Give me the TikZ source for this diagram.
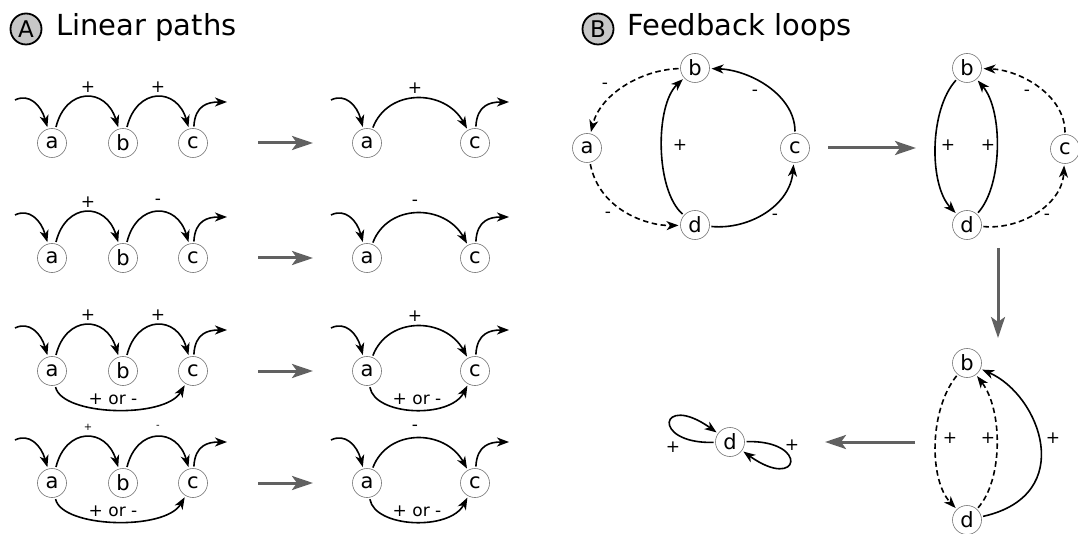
\documentclass[tikz,border=0pt]{standalone}
\usepackage{fontspec}
\setmainfont{DejaVu Sans}
\usetikzlibrary{arrows.meta}

\tikzset{
  nd/.style={circle, draw=black!55, line width=0.6pt, minimum size=29pt,
    inner sep=0pt, outer sep=2pt, font=\fontsize{21}{21}\selectfont},
  ed/.style={draw, line width=1.6pt, -{Stealth[length=12pt,width=9pt,inset=3.5pt]}},
  dsh/.style={dash pattern=on 5.5pt off 3.5pt},
  lbl/.style={inner sep=0pt, font=\fontsize{17}{17}\selectfont},
  slbl/.style={inner sep=0pt, font=\fontsize{10}{10}\selectfont},
  big/.style={draw=black!62, line width=3pt, -{Stealth[length=21pt,width=14pt,inset=5pt]}},
  ttl/.style={circle, draw=black, line width=1.8pt, fill=black!22, minimum size=31pt,
    inner sep=0pt, font=\fontsize{23}{23}\selectfont},
  ttltext/.style={inner sep=0pt, anchor=base west, font=\fontsize{29}{29}\selectfont}
}

% one row of panel A: #1 y, #2 prefix, #3/#4 labels a->b, b->c, #5 label a->c,
% #6 style of the two left labels
\newcommand\linrow[6]{%
  \node[nd] (#2a) at (52,#1) {a};
  \node[nd] (#2b) at (123,#1) {b};
  \node[nd] (#2c) at (193,#1) {c};
  \coordinate (#2in) at (15,{#1-43});
  \coordinate (#2out) at (227,{#1-41});
  \draw[ed] (#2in) .. controls (29,{#1-50}) and (41,{#1-38}) .. (#2a);
  \draw[ed] (#2a) .. controls (66,{#1-56}) and (106,{#1-56}) .. (#2b);
  \draw[ed] (#2b) .. controls (137,{#1-56}) and (177,{#1-56}) .. (#2c);
  \draw[ed] (#2c) .. controls (195,{#1-38}) and (208,{#1-41}) .. (#2out);
  \node[#6] (#2l1) at (88,{#1-56}) {#3};
  \node[#6] (#2l2) at (158,{#1-56}) {#4};
  % reduced path
  \coordinate (#2g1) at (258,#1);
  \coordinate (#2g2) at (313,#1);
  \draw[big] (#2g1) -- (#2g2);
  \node[nd] (#2A) at (367,#1) {a};
  \node[nd] (#2C) at (475,#1) {c};
  \coordinate (#2In) at (331,{#1-43});
  \coordinate (#2Out) at (509,{#1-41});
  \draw[ed] (#2In) .. controls (345,{#1-50}) and (357,{#1-38}) .. (#2A);
  \draw[ed] (#2A) .. controls (388,{#1-55}) and (445,{#1-54}) .. (#2C);
  \draw[ed] (#2C) .. controls (477,{#1-38}) and (490,{#1-41}) .. (#2Out);
  \node[lbl] (#2l3) at (415,{#1-55}) {#5};
}

% direct a->c influence underneath a row
\newcommand\orarc[2]{%
  \draw[ed] (#2a) .. controls (62,{#1+45}) and (165,{#1+48}) .. (#2c);
  \node[lbl] (#2o1) at (113,{#1+28}) {+ or -};
  \draw[ed] (#2A) .. controls (375,{#1+45}) and (450,{#1+48}) .. (#2C);
  \node[lbl] (#2o2) at (417,{#1+28}) {+ or -};
}

\begin{document}
\begin{tikzpicture}[x=1pt, y=-1pt]
\useasboundingbox (0,0) rectangle (1078,534);

% ---------- A: linear paths ----------
\node[ttl] (tA) at (26,29) {A};
\node[ttltext] (tAt) at (56,36) {Linear paths};

\linrow{143}{r1}{+}{+}{+}{lbl}
\linrow{258}{r2}{+}{-}{-}{lbl}
\linrow{371}{r3}{+}{+}{+}{lbl}
\orarc{371}{r3}
\linrow{483}{r4}{+}{-}{-}{slbl}
\orarc{483}{r4}

% ---------- B: feedback loops ----------
\node[ttl] (tB) at (598,29) {B};
\node[ttltext] (tBt) at (627,36) {Feedback loops};

% full network
\node[nd] (fb) at (695,68) {b};
\node[nd] (fa) at (587,148) {a};
\node[nd] (fc) at (795,148) {c};
\node[nd] (fd) at (695,225) {d};
\draw[ed,dsh] (fb) .. controls (640,70) and (600,95) .. (fa);
\draw[ed,dsh] (fa) .. controls (600,212) and (650,226) .. (fd);
\draw[ed] (fd) .. controls (655,190) and (655,105) .. (fb);
\draw[ed] (fc) .. controls (795,95) and (750,70) .. (fb);
\draw[ed] (fd) .. controls (750,230) and (790,205) .. (fc);
\node[lbl] (fl1) at (605,86) {-};
\node[lbl] (fl2) at (608,215) {-};
\node[lbl] (fl3) at (680,145) {+};
\node[lbl] (fl4) at (755,93) {-};
\node[lbl] (fl5) at (775,217) {-};

\coordinate (g1s) at (828,148);
\coordinate (g1e) at (916,148);
\draw[big] (g1s) -- (g1e);

% a removed
\node[nd] (sb) at (967,68) {b};
\node[nd] (sc) at (1065,149) {c};
\node[nd] (sd) at (967,225) {d};
\draw[ed] (sb) .. controls (929,110) and (929,185) .. (sd);
\draw[ed] (sd) .. controls (1003,185) and (1003,110) .. (sb);
\draw[ed,dsh] (sc) .. controls (1065,95) and (1020,70) .. (sb);
\draw[ed,dsh] (sd) .. controls (1020,230) and (1062,205) .. (sc);
\node[lbl] (sl1) at (948,145) {+};
\node[lbl] (sl2) at (988,145) {+};
\node[lbl] (sl3) at (1027,93) {-};
\node[lbl] (sl4) at (1047,217) {-};

\coordinate (g2s) at (998,248);
\coordinate (g2e) at (998,338);
\draw[big] (g2s) -- (g2e);

% c removed
\node[nd] (tb) at (967,363) {b};
\node[nd] (td) at (967,520) {d};
\draw[ed,dsh] (tb) .. controls (929,410) and (929,480) .. (td);
\draw[ed,dsh] (td) .. controls (1003,480) and (1003,410) .. (tb);
\draw[ed] (td) .. controls (1078,495) and (1040,395) .. (tb);
\node[lbl] (tl1) at (950,438) {+};
\node[lbl] (tl2) at (988,438) {+};
\node[lbl] (tl3) at (1053,438) {+};

\coordinate (g3s) at (915,442);
\coordinate (g3e) at (825,442);
\draw[big] (g3s) -- (g3e);

% b removed: d with two self-loops
\node[nd] (ud) at (730,442) {d};
\draw[ed] (ud) .. controls (650,444) and (660,392) .. (ud);
\draw[ed] (ud) .. controls (810,440) and (800,492) .. (ud);
\node[lbl] (ul1) at (673,447) {+};
\node[lbl] (ul2) at (792,445) {+};

\end{tikzpicture}
\end{document}
